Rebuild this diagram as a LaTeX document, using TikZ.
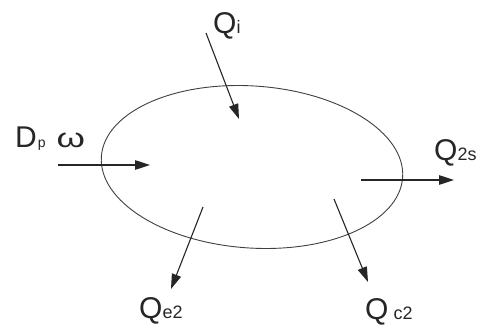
\documentclass[tikz,border=0pt]{standalone}
\usepackage{fontspec}
\usepackage{graphicx}
\setmainfont{Liberation Sans}
\usetikzlibrary{arrows.meta,shapes.geometric}
\begin{document}
\begin{tikzpicture}[x=1pt,y=-1pt,
  flow/.style={-{Triangle[length=15pt,width=9.5pt]}, line width=1.1pt, draw=black!85},
  lbl/.style={inner sep=0pt, anchor=base west, text=black!85, font=\fontsize{30}{30}\selectfont}]
\newcommand{\smalltxt}[1]{{\fontsize{18}{18}\selectfont #1}}
\useasboundingbox (0,0) rectangle (481,326);
\fill[white] (0,0) rectangle (481,326);
\node[ellipse, draw=black!75, line width=0.9pt, minimum width=302pt, minimum height=162pt, rotate=-4, inner sep=0pt] (sys) at (252,167) {};
% labels
\node[lbl] (qi) at (213,34) {Q\smalltxt{i}};
\node[lbl] (dp) at (15,147) {D\hspace{1pt}{\fontsize{14}{14}\selectfont p}\hspace{11pt}\scalebox{1.35}[1]{{\fontsize{27}{27}\selectfont ω}}};
\node[lbl] (q2) at (434,160) {Q\smalltxt{2s}};
\node[lbl] (qe) at (139,318) {Q\smalltxt{e2}};
\node[lbl] (qc) at (365,319) {Q\,\smalltxt{c2}};
% arrow ends
\coordinate (qiS) at (206,33);  \coordinate (qiE) at (239,119);
\coordinate (dpS) at (58,165);  \coordinate (dpE) at (150,165);
\coordinate (q2S) at (361,180); \coordinate (q2E) at (454,180);
\coordinate (qeS) at (203,207); \coordinate (qeE) at (171,289);
\coordinate (qcS) at (334,199); \coordinate (qcE) at (368,282);
\draw[flow] (qiS) -- (qiE);
\draw[flow] (dpS) -- (dpE);
\draw[flow] (q2S) -- (q2E);
\draw[flow] (qeS) -- (qeE);
\draw[flow] (qcS) -- (qcE);
\end{tikzpicture}
\end{document}
